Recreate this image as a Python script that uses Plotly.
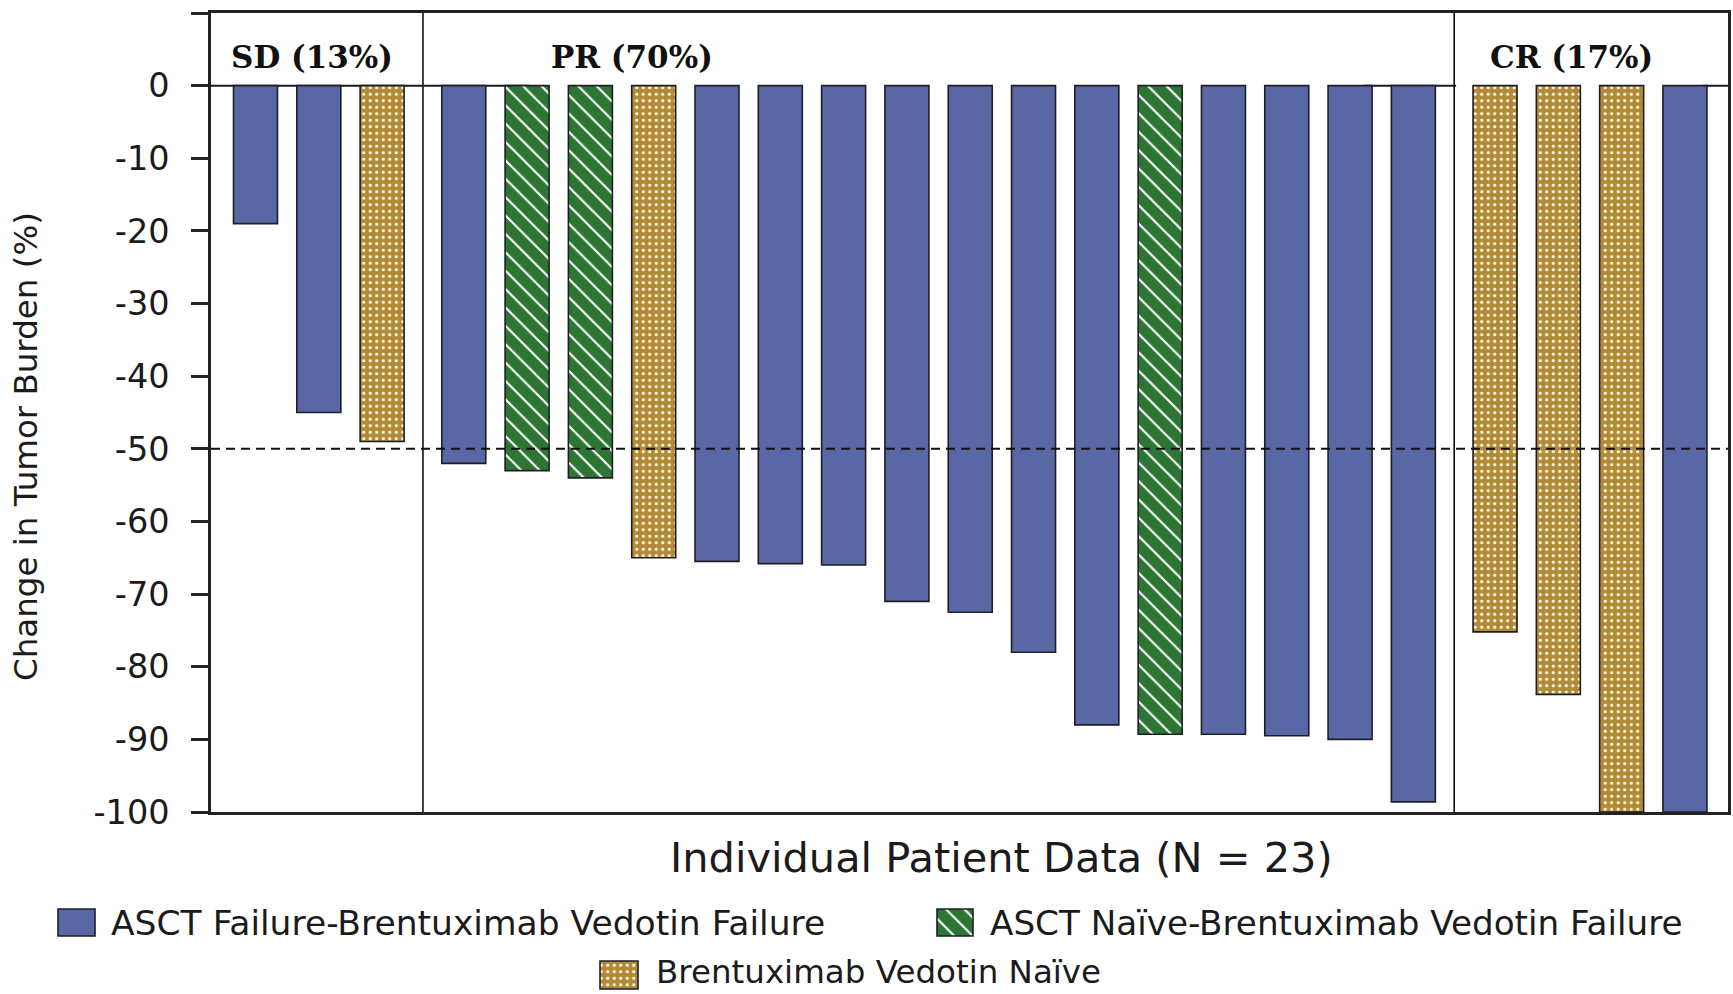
import plotly.graph_objects as go

# ---------------- data ----------------
patients = list(range(1, 24))
change = [-19, -45, -49, -52, -53, -54, -65, -65.5, -65.8, -66, -71, -72.5, -78,
          -88, -89.3, -89.3, -89.5, -90, -98.6, -75.2, -83.8, -100, -100]
cohort = ["AF", "AF", "BN", "AF", "AN", "AN", "BN", "AF", "AF", "AF", "AF", "AF", "AF",
          "AF", "AN", "AF", "AF", "AF", "AF", "BN", "BN", "BN", "AF"]
response = ["SD"] * 3 + ["PR"] * 16 + ["CR"] * 4
response_order = ["SD", "PR", "CR"]
response_labels = ["SD (13%)", "PR (70%)", "CR (17%)"]
cohort_order = ["AF", "AN", "BN"]
cohort_names = ["ASCT Failure-Brentuximab Vedotin Failure",
                "ASCT Naïve-Brentuximab Vedotin Failure",
                "Brentuximab Vedotin Naïve"]
y_tickvals = [10, 0, -10, -20, -30, -40, -50, -60, -70, -80, -90, -100]
y_ticktext = ["10", "0", "-10", "-20", "-30", "-40", "-50", "-60", "-70", "-80", "-90", "-100"]
threshold = -50
x_title = "Individual Patient Data (N = 23)"
y_title = "Change in Tumor Burden (%)"

# ---------------- styles ----------------
W, H = 1733, 994
SANS = "DejaVu Sans, Arial, sans-serif"
SERIF = "DejaVu Serif, Liberation Serif, serif"
INK = "#1b1b1b"
EDGE = "#1e1e28"
BLUE = "#5A67A5"
GREEN = "#2C7533"
GOLD = "#B18A37"
styles = {
    "AF": dict(color=BLUE, pattern=dict(shape="")),
    "AN": dict(color=GREEN, pattern=dict(shape="\\", fgcolor="white", bgcolor=GREEN,
                                          size=13, solidity=0.16, fillmode="replace")),
    "BN": dict(color=GOLD, pattern=dict(shape=".", fgcolor="#FFF6DC", bgcolor=GOLD,
                                         size=6.5, solidity=0.2, fillmode="replace")),
}

GAP = 0.29          # extra spacing between response groups (in patient slots)
BAR_W = 0.695
X_RANGE = [0.297, 24.26]

group_index = [response_order.index(r) for r in response]
xpos = [p + GAP * g for p, g in zip(patients, group_index)]

fig = go.Figure()

for c in cohort_order:
    idx = [i for i, k in enumerate(cohort) if k == c]
    st = styles[c]
    fig.add_trace(go.Bar(
        x=[xpos[i] for i in idx], y=[change[i] for i in idx],
        width=BAR_W,
        marker=dict(color=st["color"], pattern=st["pattern"],
                    line=dict(color=EDGE, width=1.6)),
        showlegend=False, xaxis="x", yaxis="y",
        name=cohort_names[cohort_order.index(c)],
    ))

# group boundaries (midpoints between last bar of a group and first of next)
bounds = []
for g in range(len(response_order) - 1):
    last = max(x for x, gi in zip(xpos, group_index) if gi == g)
    first = min(x for x, gi in zip(xpos, group_index) if gi == g + 1)
    bounds.append((last + first) / 2)

shapes = []
# zero baseline
shapes.append(dict(type="line", xref="x", yref="y", x0=X_RANGE[0], x1=X_RANGE[1], y0=0, y1=0,
                   line=dict(color=INK, width=2), layer="below"))
# white label boxes hiding part of the baseline (PR and CR headers)
shapes.append(dict(type="rect", xref="x", yref="y", x0=5.32, x1=18.51, y0=-0.35, y1=9.5,
                   fillcolor="white", line=dict(width=0), layer="below"))
shapes.append(dict(type="rect", xref="x", yref="y", x0=bounds[1] + 0.03, x1=23.87, y0=-0.35, y1=9.5,
                   fillcolor="white", line=dict(width=0), layer="below"))
# vertical separators
for b in bounds:
    shapes.append(dict(type="line", xref="x", yref="y", x0=b, x1=b, y0=-100.4, y1=10,
                       line=dict(color="#111111", width=1.6), layer="above"))
# -50% threshold
shapes.append(dict(type="line", xref="x", yref="y", x0=X_RANGE[0], x1=X_RANGE[1],
                   y0=threshold, y1=threshold,
                   line=dict(color="#111111", width=2, dash="9px,6px"), layer="above"))

annotations = []
# section labels
label_x = [1.89, 6.95, 21.78]
for lx, txt in zip(label_x, response_labels):
    annotations.append(dict(x=lx, y=4.0, xref="x", yref="y", text=f"<b>{txt}</b>",
                            showarrow=False, xanchor="center", yanchor="middle",
                            font=dict(family=SERIF, size=31, color="#111111")))
# axis titles
annotations.append(dict(x=1001 / W, y=1 - 857 / H, xref="paper", yref="paper", text=x_title,
                        showarrow=False, xanchor="center", yanchor="middle",
                        font=dict(family=SANS, size=41.5, color=INK)))
annotations.append(dict(x=26 / W, y=1 - 447 / H, xref="paper", yref="paper", text=y_title,
                        showarrow=False, xanchor="center", yanchor="middle", textangle=-90,
                        font=dict(family=SANS, size=32.5, color=INK)))

# custom legend (swatches drawn as bars on a pixel-unit overlay axis)
leg_swatch_x = [76.5, 955, 619]
leg_swatch_top = [909, 909, 961]
leg_swatch_w = [37, 36, 38]
leg_swatch_h = [27, 27, 28]
leg_text_x = [109, 988, 654]
leg_text_y = [923, 923, 972]
leg_text_size = [34.5, 34.2, 32.5]
for k, c in enumerate(cohort_order):
    st = styles[c]
    fig.add_trace(go.Bar(
        x=[leg_swatch_x[k]], y=[leg_swatch_h[k]], base=[leg_swatch_top[k]],
        width=leg_swatch_w[k],
        marker=dict(color=st["color"], pattern=st["pattern"], line=dict(color=EDGE, width=1.6)),
        showlegend=False, xaxis="x2", yaxis="y2", hoverinfo="skip",
    ))
    annotations.append(dict(x=leg_text_x[k] / W, y=1 - leg_text_y[k] / H,
                            xref="paper", yref="paper", text=cohort_names[k],
                            showarrow=False, xanchor="left", yanchor="middle",
                            font=dict(family=SANS, size=leg_text_size[k], color=INK)))

fig.update_layout(
    width=W, height=H, autosize=False,
    margin=dict(l=0, r=0, t=0, b=0, pad=0, autoexpand=False),
    paper_bgcolor="white", plot_bgcolor="rgba(0,0,0,0)",
    barmode="overlay",
    showlegend=False,
    font=dict(family=SANS, color=INK),
    xaxis=dict(domain=[211 / W, 1728 / W], range=X_RANGE, anchor="y",
               showticklabels=False, ticks="", showgrid=False, zeroline=False,
               showline=True, linecolor="#222222", linewidth=2.5, mirror=True),
    yaxis=dict(domain=[1 - 812 / H, 1 - 13 / H], range=[-100, 10], anchor="x",
               tickmode="array", tickvals=y_tickvals, ticktext=y_ticktext,
               ticks="outside", ticklen=17, tickwidth=2.5, tickcolor="#222222",
               ticklabelstandoff=15,
               tickfont=dict(family=SANS, size=33.5, color=INK),
               showgrid=False, zeroline=False,
               showline=True, linecolor="#222222", linewidth=2.5, mirror=True),
    xaxis2=dict(domain=[0, 1], range=[0, W], anchor="y2", visible=False, fixedrange=True),
    yaxis2=dict(domain=[0, 1], range=[H, 0], anchor="x2", visible=False, fixedrange=True),
    shapes=shapes,
    annotations=annotations,
)

fig.write_html("out.html", config={"displayModeBar": False, "responsive": False},
               post_script="document.body.style.margin='0';document.body.style.overflow='hidden';")
